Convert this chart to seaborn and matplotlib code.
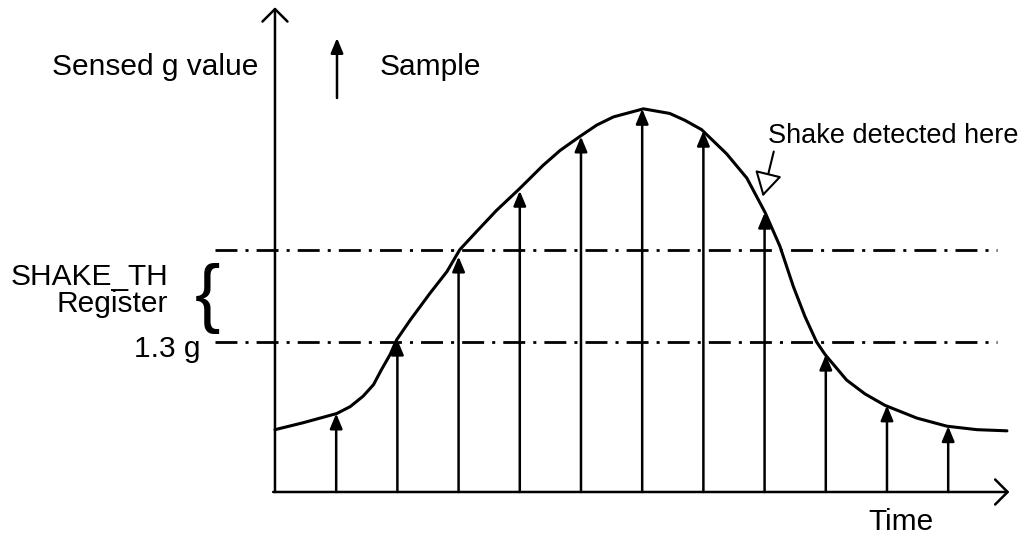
import matplotlib
matplotlib.use('Agg')
import matplotlib.pyplot as plt
import seaborn as sns
import pandas as pd

# sample instants (in sample periods) and the sensed g value at each one
sample_t = [1, 2, 3, 4, 5, 6, 7, 8, 9, 10, 11]
sample_g = [0.68, 1.32, 2.04, 2.61, 3.08, 3.32, 3.13, 2.42, 1.19, 0.75, 0.57]

# the continuous acceleration curve
curve_t = [0.0, 0.46, 1.01, 1.23, 1.44, 1.61, 1.74, 1.88, 1.99, 2.21, 2.53, 2.81,
           3.02, 3.30, 3.62, 4.00, 4.38, 4.66, 4.98, 5.26, 5.53, 6.02, 6.45, 6.70,
           6.97, 7.38, 7.71, 8.01, 8.25, 8.47, 8.66, 8.85, 8.99, 9.34, 9.64, 9.97,
           10.49, 10.98, 11.47, 11.96]
curve_g = [0.54, 0.60, 0.68, 0.74, 0.83, 0.93, 1.06, 1.19, 1.32, 1.49, 1.72, 1.91,
           2.10, 2.26, 2.44, 2.63, 2.83, 2.96, 3.08, 3.18, 3.25, 3.32, 3.28, 3.22,
           3.14, 2.93, 2.72, 2.42, 2.13, 1.78, 1.52, 1.30, 1.19, 0.97, 0.85, 0.75,
           0.64, 0.57, 0.54, 0.53]

threshold_low = 1.3   # g
threshold_high = 2.1  # g
detect_t = 8          # sample where the shake is detected

sns.set_theme(style='white')
plt.rcParams['font.family'] = ['Liberation Sans', 'DejaVu Sans']

fig = plt.figure(figsize=(10.19, 5.40), dpi=100)
ax = fig.add_axes([0, 0, 1, 1])
ax.set_xlim(-4.493, 12.157)
ax.set_ylim(-0.416, 4.263)
ax.axis('off')

# threshold lines
ax.hlines([threshold_low, threshold_high], -0.98, 11.8, color='black', lw=2,
          linestyle=(0, (7.9, 2.9, 1.1, 2.9)))

# axes with open arrow heads
axis_arrow = dict(arrowstyle='->,head_length=0.6,head_width=0.6', lw=1.8,
                  color='black', mutation_scale=15, shrinkA=0, shrinkB=0)
ax.annotate('', xy=(12.0, 0), xytext=(-0.03, 0), arrowprops=axis_arrow)
ax.annotate('', xy=(0, 4.2), xytext=(0, 0), arrowprops=axis_arrow)

# the curve
curve = pd.DataFrame({'t': curve_t, 'g': curve_g})
sns.lineplot(data=curve, x='t', y='g', sort=False, color='black', lw=2.2, ax=ax,
             solid_joinstyle='round', solid_capstyle='round')

# the samples
sample_arrow = dict(arrowstyle='-|>,head_length=0.6,head_width=0.25', lw=1.8,
                    color='black', mutation_scale=15, shrinkA=0, shrinkB=0)
for t, g in zip(sample_t, sample_g):
    ax.annotate('', xy=(t, g), xytext=(t, 0), arrowprops=sample_arrow)

# legend arrow
ax.annotate('', xy=(337 / 1019, 1 - 38 / 540), xytext=(337 / 1019, 1 - 98 / 540),
            xycoords='axes fraction', textcoords='axes fraction',
            arrowprops=sample_arrow)

def label(x, y, s, ha='left', size=21.5):
    ax.text(x / 1019, 1 - y / 540, s, ha=ha, va='baseline', fontsize=size,
            color='black', transform=ax.transAxes)

label(52, 75, 'Sensed g value')
label(380, 75, 'Sample')
label(168, 285, 'SHAKE_TH', ha='right')
label(168, 312, 'Register', ha='right')
label(200, 357, '1.3 g', ha='right')
label(868, 530, 'Time')
label(768, 143, 'Shake detected here', size=19.5)

# brace
ax.text(207 / 1019, 1 - 298 / 540, '{', ha='center', va='center', fontsize=55,
        color='black', transform=ax.transAxes)

# pointer to the detection point
ax.annotate('', xy=(detect_t - 0.03, 2.56), xytext=(detect_t + 0.15, 2.95),
            arrowprops=dict(arrowstyle='-|>,head_length=1.0,head_width=0.57', lw=1.5,
                            fc='white', ec='black', mutation_scale=15, shrinkA=0, shrinkB=0))

fig.savefig('out.png', dpi=100, facecolor='white')
